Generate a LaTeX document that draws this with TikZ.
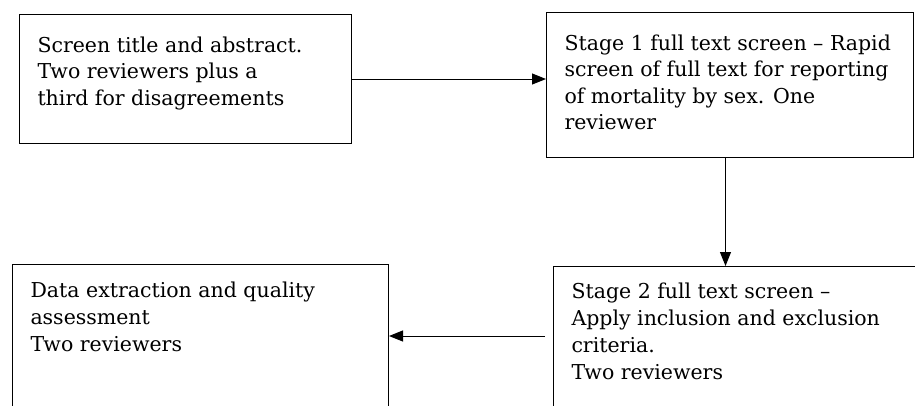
\documentclass[tikz,border=0pt]{standalone}
\usepackage{fontspec}
\setmainfont{DejaVu Serif}
\usetikzlibrary{arrows.meta,positioning}

\begin{document}
\begin{tikzpicture}[x=1pt, y=-1pt,
    stagebox/.style={draw, line width=1pt, anchor=north west, inner xsep=18pt, inner ysep=22pt,
        font=\fontsize{20.5}{26.5}\selectfont},
    flow/.style={-{Triangle[length=14pt,width=11pt]}, line width=1pt}]
    % Canvas
    \useasboundingbox (0,0) rectangle (915,405);
    \clip (0,0) rectangle (915,405);

    % Screening boxes
    \node[stagebox] (title) at (19,14) {\parbox[t][85pt][t]{296pt}{Screen title and abstract.\\
        Two reviewers plus a\\ third for disagreements}};
    \node[stagebox] (stage1) at (546,12) {\parbox[t][101pt][t]{331pt}{Stage 1 full text screen -- Rapid\\
        screen of full text for reporting\\ of mortality by sex. One\\ reviewer}};
    \node[stagebox, inner ysep=16pt] (stage2) at (553,266) {\parbox[t][148pt][t]{364pt}{%
        \baselineskip=27pt Stage 2 full text screen --\\
        Apply inclusion and exclusion\\ criteria.\\ Two reviewers}};
    \node[stagebox, inner ysep=17pt] (extract) at (12,264) {\parbox[t][146pt][t]{340pt}{%
        \baselineskip=27pt Data extraction and quality\\
        assessment\\ Two reviewers}};

    % Connectors
    \draw[flow] (title.east) -- (title.east -| stage1.west);
    \draw[flow] ([xshift=-4.5pt]stage1.south) -- ([xshift=-4.5pt]stage1.south |- stage2.north);
    \coordinate (gap) at (545,336);
    \draw[flow] (gap) -- (gap -| extract.east);
\end{tikzpicture}
\end{document}
